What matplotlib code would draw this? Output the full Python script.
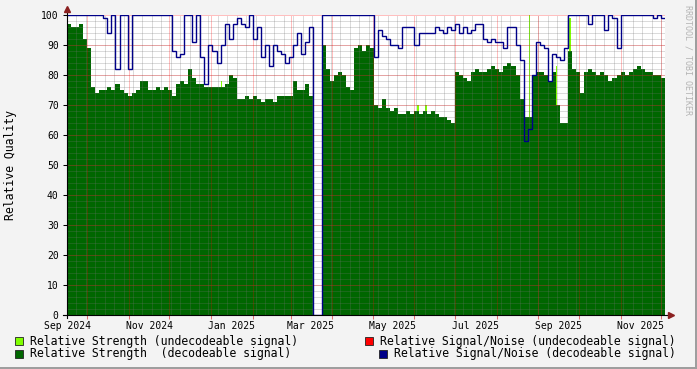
import numpy as np
import pandas as pd
import matplotlib
matplotlib.use("Agg")
import matplotlib.pyplot as plt
import matplotlib.dates as mdates
from matplotlib.patches import Rectangle
from matplotlib.ticker import MultipleLocator, FixedLocator, NullFormatter

plt.rcParams['font.family'] = ['DejaVu Sans Mono']

# 3-day buckets starting 2024-09-16
start = pd.Timestamp("2024-09-16")
bin_days = 3

strength = [
    97, 96, 96, 97, 92, 89, 76, 74, 75, 75,
    76, 75, 77, 75, 74, 73, 74, 75, 78, 78,
    75, 75, 76, 75, 76, 75, 73, 77, 78, 77,
    82, 79, 77, 77, 76, 76, 76, 76, 76, 77,
    80, 79, 72, 72, 73, 72, 73, 72, 71, 72,
    72, 71, 73, 73, 73, 73, 78, 75, 75, 77,
    73, 0, 0, 90, 82, 78, 80, 81, 80, 76,
    75, 89, 90, 88, 90, 89, 70, 69, 72, 69,
    68, 69, 67, 67, 68, 67, 68, 67, 68, 67,
    68, 67, 66, 66, 65, 64, 81, 80, 79, 78,
    81, 82, 81, 81, 82, 83, 82, 81, 83, 84,
    83, 80, 72, 66, 66, 80, 81, 81, 80, 78,
    81, 70, 64, 64, 88, 82, 81, 74, 81, 82,
    81, 80, 81, 80, 78, 79, 80, 81, 80, 81,
    82, 83, 82, 81, 81, 80, 80, 79,
]

snr = [
    100, 100, 100, 100, 100, 100, 100, 100, 100, 99,
    94, 100, 82, 100, 100, 82, 100, 100, 100, 100,
    100, 100, 100, 100, 100, 100, 88, 86, 87, 100,
    100, 91, 100, 86, 77, 90, 88, 84, 90, 97,
    92, 97, 99, 97, 96, 100, 92, 96, 86, 90,
    83, 90, 88, 87, 84, 86, 90, 94, 87, 91,
    96, 0, 0, 100, 100, 100, 100, 100, 100, 100,
    100, 100, 100, 100, 100, 100, 86, 95, 93, 92,
    90, 90, 89, 96, 96, 96, 90, 94, 94, 94,
    94, 96, 95, 94, 96, 95, 97, 94, 96, 94,
    95, 97, 97, 92, 91, 92, 91, 91, 89, 96,
    96, 90, 85, 58, 62, 80, 91, 90, 89, 78,
    87, 86, 85, 89, 100, 100, 100, 100, 100, 97,
    100, 100, 100, 95, 100, 99, 89, 100, 100, 100,
    100, 100, 100, 100, 100, 99, 100, 99,
]

# days (from start) where the signal was not decodeable
undecodable_day = [114, 260, 266, 343, 363, 365, 373]
undecodable_val = [78, 70, 70, 100, 83, 66, 99]

label_dates = ["2024-09-16", "2024-11-16", "2025-01-16", "2025-03-16",
               "2025-05-16", "2025-07-16", "2025-09-16", "2025-11-16"]

legend_items = [
    ("Relative Strength (undecodeable signal)", "#80ff00"),
    ("Relative Strength  (decodeable signal)", "#006600"),
    ("Relative Signal/Noise (undecodeable signal)", "#ff0000"),
    ("Relative Signal/Noise (decodeable signal)", "#000088"),
]

W, H = 697, 369
fig = plt.figure(figsize=(W / 100, H / 100), dpi=100, facecolor="#f3f3f3")
ax = fig.add_axes([67 / W, (H - 315) / H, 598 / W, 300 / H])
ax.set_facecolor("white")

edges = start + pd.to_timedelta(np.arange(len(strength) + 1) * bin_days, unit="D")
x_edges = mdates.date2num(edges)
lime_x = mdates.date2num(start + pd.to_timedelta(undecodable_day, unit="D"))

ax.bar(lime_x, undecodable_val, width=1.0, align="edge", color="#80ff00", lw=0, zorder=1)
ax.stairs(strength, x_edges, fill=True, color="#006600", lw=0, zorder=2)
ax.stairs(snr, x_edges, baseline=None, color="#000088", lw=1.0, zorder=4)

ax.set_xlim(x_edges[0], x_edges[-1])
ax.set_ylim(0, 100)
ax.xaxis_date()

# grid drawn without antialiasing so the dots stay crisp (rrdtool look)
dot = (0, (1, 1))
red_grid = (1.0, 0.0, 0.0, 0.25)
gray_grid = (0.45, 0.45, 0.45, 0.25)
weeks = mdates.date2num(pd.date_range(edges[0], edges[-1], freq="W-MON"))
months = mdates.date2num(pd.date_range(edges[0], edges[-1], freq="MS"))
xt = ax.get_xaxis_transform()
yt = ax.get_yaxis_transform()
ax.vlines(weeks, 0, 1, transform=xt, colors=[gray_grid], lw=0.72,
          linestyles=dot, antialiased=False, zorder=3)
ax.hlines(np.arange(2, 100, 2), 0, 1, transform=yt, colors=[gray_grid], lw=0.72,
          linestyles=dot, antialiased=False, zorder=3)
ax.vlines(months, 0, 1, transform=xt, colors=[red_grid], lw=0.72,
          linestyles=dot, antialiased=False, zorder=3.1)
ax.hlines(np.arange(10, 101, 10), 0, 1, transform=yt, colors=[red_grid], lw=0.72,
          linestyles=dot, antialiased=False, zorder=3.1)

ax.xaxis.set_major_locator(FixedLocator(mdates.date2num(pd.to_datetime(label_dates))))
ax.xaxis.set_major_formatter(mdates.DateFormatter("%b %Y"))
ax.xaxis.set_minor_locator(FixedLocator(months))
ax.xaxis.set_minor_formatter(NullFormatter())
ax.yaxis.set_major_locator(MultipleLocator(10))

ax.tick_params(axis="x", which="major", length=0, pad=4, labelsize=7)
ax.tick_params(axis="x", which="minor", length=3, width=0.75, color="#e07070")
ax.tick_params(axis="y", which="major", length=3, width=0.75, color="black",
               labelsize=7, pad=3)

for s in ax.spines.values():
    s.set_visible(False)
ax.plot([0, 0], [-0.01, 1.02], transform=ax.transAxes, color="black",
        lw=0.8, clip_on=False, zorder=6)
ax.plot([-0.007, 1.008], [0, 0], transform=ax.transAxes, color="black",
        lw=0.8, clip_on=False, zorder=6)
ax.plot([0], [1.02], marker="^", ms=4, color="#8b2020", transform=ax.transAxes,
        clip_on=False, zorder=7)
ax.plot([1.01], [0], marker=">", ms=4, color="#8b2020", transform=ax.transAxes,
        clip_on=False, zorder=7)

fig.text(11 / W, 1 - 165 / H, "Relative Quality", rotation=90, va="center",
         ha="center", size=8.3)
fig.text(688 / W, 1 - 60 / H, "RRDTOOL / TOBI OETIKER", rotation=270,
         va="center", ha="center", size=6, color="#b4b4b4")

# legend, two rows, two columns
legend_pos = [(15, 341), (15, 354), (365, 341), (379, 354)]
for (label, color), (bx, by) in zip(legend_items, legend_pos):
    fig.patches.append(Rectangle((bx / W, 1 - (by + 4) / H), 8 / W, 8 / H,
                                 transform=fig.transFigure, facecolor=color,
                                 edgecolor="#222222", lw=0.6))
    fig.text((bx + 15) / W, 1 - by / H, label, va="center", ha="left", size=8.3)

# canvas border
fig.patches.append(Rectangle((0, 0), 1, 2 / H, transform=fig.transFigure,
                             facecolor="#9e9e9e", lw=0))
fig.patches.append(Rectangle((1 - 2 / W, 0), 2 / W, 1, transform=fig.transFigure,
                             facecolor="#9e9e9e", lw=0))

fig.savefig("out.png", dpi=100, facecolor=fig.get_facecolor())
